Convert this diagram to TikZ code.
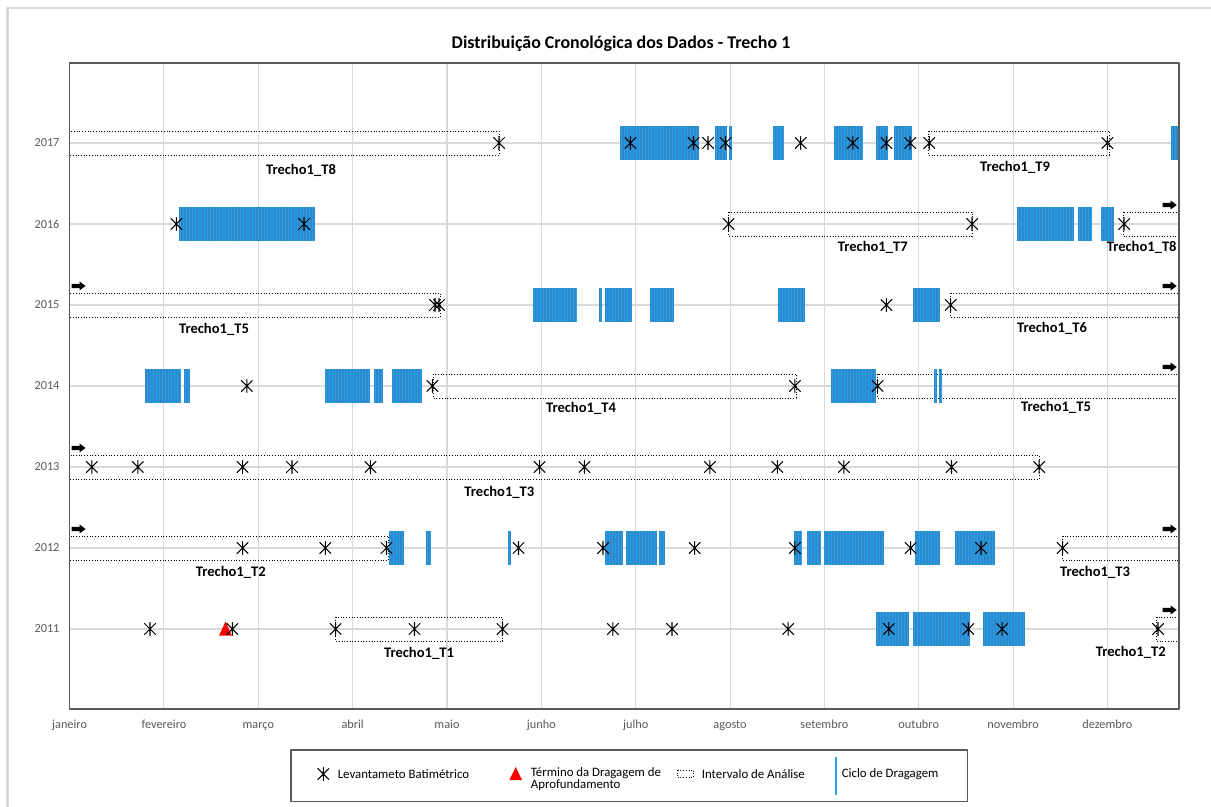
\documentclass[tikz,border=0pt]{standalone}
\usepackage{fontspec}
\setmainfont{Carlito}

\definecolor{barraazul}{HTML}{2F87CC}
\definecolor{listraazul}{HTML}{22A0E8}
\definecolor{cinzagrade}{HTML}{D9D9D9}
\definecolor{cinzaeixo}{HTML}{595959}

\begin{document}
\begin{tikzpicture}[x=0.02cm, y=-0.02cm, line join=round,
  grade/.style={cinzagrade, line width=0.6pt},
  eixo/.style={cinzaeixo, line width=0.85pt},
  rotulo/.style={text=cinzaeixo, font=\fontsize{7}{8}\selectfont, inner sep=0pt},
  trecho/.style={font=\bfseries\fontsize{8.3}{10}\selectfont, inner sep=0pt},
  legenda/.style={font=\fontsize{7.3}{6.8}\selectfont, inner sep=0pt, align=left},
  caixa/.style={densely dotted, line width=0.55pt},
  estrela/.style={line width=0.6pt, line cap=round},
  barra/.style={fill=barraazul},
  listra/.style={listraazul, line width=0.45pt, line cap=butt}]

\useasboundingbox (0,0) rectangle (1211,807);

% \levantamento{x}
\newcommand{\levantamento}[1]{%
  \draw[estrela] ({#1},-6.5) -- ({#1},6.5)
    ({#1-5.5},-5.5) -- ({#1+5.5},5.5)
    ({#1-5.5},5.5) -- ({#1+5.5},-5.5);%
}
% \ciclo{x1}{x2}
\newcommand{\ciclo}[2]{%
  \fill[barra] ({#1},-17) rectangle ({#2},17);
  \pgfmathtruncatemacro{\nl}{(#2-#1-1.5)/3}
  \foreach \k in {0,...,\nl}
    \draw[listra] ({#1+1.5+3*\k},-17) -- ++(0,34);%
}
% \intervalo{x1}{x2}
\newcommand{\intervalo}[2]{%
  \draw[caixa] ({#1},-12) rectangle ({#2},12);%
}
% \seta{x}
\newcommand{\seta}[1]{%
  \fill ({#1-7},-21.2) -- ({#1+1},-21.2) -- ({#1+1},-23.5) -- ({#1+7},-19)
    -- ({#1+1},-14.5) -- ({#1+1},-16.8) -- ({#1-7},-16.8) -- cycle;%
}

% moldura externa
\draw[cinzagrade, line width=1.2pt] (7.5,807) -- (7.5,8) -- (1211,8);

% titulo
\node[font=\bfseries\fontsize{10.2}{12}\selectfont] (titulo) at (621,44)
  {Distribuição Cronológica dos Dados - Trecho 1};

% grade
\foreach \m in {1,...,11}
  \draw[grade] ({69.6+94.35*\m},63) -- ({69.6+94.35*\m},709);
\foreach \a in {2011,...,2017} {
  \draw[grade] (69.6,{629-81*(\a-2011)}) -- (1179,{629-81*(\a-2011)});
  \node[rotulo] (ano\a) at (47,{629-81*(\a-2011)}) {\a};
}
\foreach \mes [count=\i from 0] in {janeiro,fevereiro,março,abril,maio,junho,julho,agosto,setembro,outubro,novembro,dezembro}
  \node[rotulo, anchor=base] (mes\i) at ({69.6+94.35*\i},728.5) {\mes};

% 2017
\begin{scope}[shift={(0,143)}]
  \intervalo{69.6}{499}
  \intervalo{928.5}{1109}
  \foreach \a/\b in {620.3/698.6, 715/726.7, 728.6/732, 772.6/784.3, 834.2/863.4, 875.9/888, 893.8/912.2, 1171.3/1179}
    {\ciclo{\a}{\b}}
  \foreach \p in {499, 630.4, 693.5, 708, 725.5, 800.7, 852.9, 886.4, 910.2, 929.3, 1107.4}
    {\levantamento{\p}}
  \node[trecho] (t17a) at (301,27) {Trecho1\_T8};
  \node[trecho] (t17b) at (1015,24) {Trecho1\_T9};
\end{scope}

% 2016
\begin{scope}[shift={(0,224)}]
  \intervalo{728.6}{972}
  \intervalo{1123}{1179}
  \foreach \a/\b in {178.7/314.6, 1016.6/1073.5, 1077.8/1091.8, 1100.8/1113.6}
    {\ciclo{\a}{\b}}
  \foreach \p in {176.4, 304, 728.6, 972, 1124}
    {\levantamento{\p}}
  \seta{1169.7}
  \node[trecho] (t16a) at (872.8,23) {Trecho1\_T7};
  \node[trecho] (t16b) at (1141.7,23) {Trecho1\_T8};
\end{scope}

% 2015
\begin{scope}[shift={(0,305)}]
  \intervalo{69.6}{440}
  \intervalo{950.7}{1179}
  \foreach \a/\b in {532.7/577, 598.5/601.5, 604.7/632, 650/674, 778/805.4, 912.5/940.2}
    {\ciclo{\a}{\b}}
  \foreach \p in {435, 439, 886.4, 950.7}
    {\levantamento{\p}}
  \seta{78.5}
  \seta{1169.7}
  \node[trecho] (t15a) at (214,24) {Trecho1\_T5};
  \node[trecho] (t15b) at (1052,23) {Trecho1\_T6};
\end{scope}

% 2014
\begin{scope}[shift={(0,386)}]
  \intervalo{433.2}{796}
  \intervalo{877.5}{1179}
  \foreach \a/\b in {145.4/181, 184/190.2, 324.5/370.4, 373.5/382.7, 392.3/421.7, 830.7/875.5, 934/936.7, 939.4/942}
    {\ciclo{\a}{\b}}
  \foreach \p in {246.8, 432.4, 794.9, 877.5}
    {\levantamento{\p}}
  \seta{1169.7}
  \node[trecho] (t14a) at (581,22) {Trecho1\_T4};
  \node[trecho] (t14b) at (1056,21.5) {Trecho1\_T5};
\end{scope}

% 2013
\begin{scope}[shift={(0,467)}]
  \intervalo{69.6}{1039.2}
  \foreach \p in {91.8, 137.8, 242.6, 292, 370.4, 539.6, 584.4, 709.9, 777.3, 843.9, 951.5, 1039.2}
    {\levantamento{\p}}
  \seta{78.5}
  \node[trecho] (t13a) at (499.4,25) {Trecho1\_T3};
\end{scope}

% 2012
\begin{scope}[shift={(0,548)}]
  \intervalo{69.6}{388.4}
  \intervalo{1062.6}{1179}
  \foreach \a/\b in {389.2/403.7, 425.5/430.5, 507.8/510.5, 604.7/622.6, 625.7/656.5, 659.2/665, 793.7/801.9, 806.5/821, 824/884, 914.9/940.2, 955/994.8}
    {\ciclo{\a}{\b}}
  \foreach \p in {242.6, 325.3, 386.5, 518.5, 603, 694.7, 794.9, 910.6, 981, 1062.6}
    {\levantamento{\p}}
  \seta{78.5}
  \seta{1169.7}
  \node[trecho] (t12a) at (230.8,24) {Trecho1\_T2};
  \node[trecho] (t12b) at (1095,24) {Trecho1\_T3};
\end{scope}

% 2011
\begin{scope}[shift={(0,629)}]
  \intervalo{335.6}{502.5}
  \intervalo{1156.5}{1179}
  \foreach \a/\b in {875.9/908.6, 913/970.2, 983/1024.8}
    {\ciclo{\a}{\b}}
  \fill[red] (225.5,-7.5) -- (232,6.7) -- (219,6.7) -- cycle;
  \foreach \p in {150, 232.3, 335.6, 414.5, 502.5, 612.9, 672, 788.2, 888.8, 968.3, 1002.2, 1158}
    {\levantamento{\p}}
  \seta{1169.7}
  \node[trecho] (t11a) at (419,24) {Trecho1\_T1};
  \node[trecho] (t11b) at (1130.8,23) {Trecho1\_T2};
\end{scope}

% eixos
\draw[eixo] (69.6,63) rectangle (1179,709);

% legenda
\draw[eixo, line width=0.6pt] (291,750) rectangle (967.5,801.7);
\begin{scope}[shift={(0,774)}]
  \levantamento{323.3}
  \fill[red] (515.7,-7) -- (522,6) -- (509.4,6) -- cycle;
  \draw[caixa] (677.3,-4) rectangle (693.4,3.7);
  \draw[listraazul, line width=1.2pt] (835.8,-17.3) -- (835.8,21);
  \node[legenda, anchor=west] (legLev) at (337.5,0) {Levantameto Batimétrico};
  \node[legenda, anchor=west] (legTer) at (530.5,5.5) {Término da Dragagem de\\Aprofundamento};
  \node[legenda, anchor=west] (legInt) at (701.5,0) {Intervalo de Análise};
  \node[legenda, anchor=west] (legCic) at (841.5,0) {Ciclo de Dragagem};
\end{scope}

\end{tikzpicture}
\end{document}
